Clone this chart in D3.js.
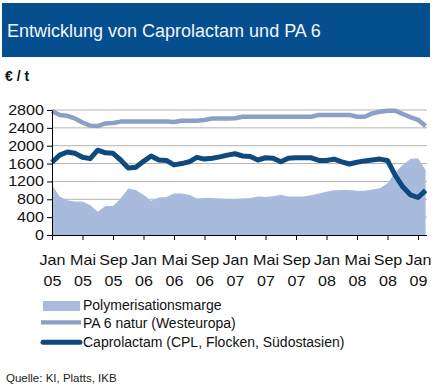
<!DOCTYPE html>
<html>
<head>
<meta charset="utf-8">
<script src="https://cdn.jsdelivr.net/npm/d3@7"></script>
<style>
  body { margin: 0; background: #fff; }
  svg { display: block; font-family: "Liberation Sans", Arial, sans-serif; }
</style>
</head>
<body>
<svg id="chart" width="438" height="392"></svg>
<script>
// monthly values, Jan 05 .. Feb 09 (index 0..49)
const marge = [1120, 860, 780, 750, 750, 670, 520, 650, 650, 820,
               1040, 1010, 900, 770, 840, 850, 930, 930, 900, 820,
               830, 830, 820, 806, 806, 820, 830, 860, 850, 870,
               900, 860, 860, 860, 890, 930, 970, 1000, 1010, 1010,
               990, 990, 1020, 1045, 1160, 1400, 1570, 1700, 1720, 1450];
const pa6 = [2780, 2690, 2670, 2610, 2520, 2450, 2440, 2500, 2510, 2540,
             2545, 2545, 2545, 2545, 2545, 2545, 2530, 2560, 2560, 2560,
             2575, 2610, 2610, 2610, 2615, 2650, 2650, 2650, 2650, 2650,
             2650, 2650, 2650, 2650, 2650, 2690, 2690, 2690, 2690, 2690,
             2650, 2650, 2725, 2760, 2785, 2785, 2710, 2640, 2580, 2440];
const cpl = [1630, 1790, 1860, 1830, 1740, 1710, 1900, 1840, 1830, 1680,
             1500, 1520, 1650, 1770, 1680, 1670, 1570, 1600, 1640, 1740,
             1700, 1720, 1750, 1790, 1820, 1770, 1760, 1680, 1730, 1720,
             1640, 1720, 1730, 1730, 1730, 1670, 1670, 1700, 1640, 1590,
             1630, 1660, 1680, 1700, 1670, 1340, 1080, 900, 840, 1000];

const tickMonth = ["Jan", "Mai", "Sep", "Jan", "Mai", "Sep", "Jan", "Mai", "Sep", "Jan", "Mai", "Sep", "Jan"];
const tickYear = ["05", "05", "05", "06", "06", "06", "07", "07", "07", "08", "08", "08", "09"];
const yTicks = [0, 400, 800, 1200, 1600, 2000, 2400, 2800];
const legendLabels = ["Polymerisationsmarge", "PA 6 natur (Westeuropa)", "Caprolactam (CPL, Flocken, Südostasien)"];

const col = {bar: "#064f8f", marge: "#a9bbdc", pa6: "#8c9fc7", cpl: "#0f4a7e", grid: "#b4b4b4"};

const svg = d3.select("#chart");

// title bar
svg.append("rect").attr("x", 2).attr("y", 3).attr("width", 428).attr("height", 54).attr("fill", col.bar);
svg.append("text").attr("x", 7).attr("y", 37).attr("fill", "#f2f5fa")
  .style("font-size", "18px").text("Entwicklung von Caprolactam und PA 6");

svg.append("text").attr("x", 5).attr("y", 81).style("font-size", "14px").style("font-weight", "bold")
  .attr("fill", "#111").text("€ / t");

const x = d3.scaleLinear().domain([0, 48]).range([52, 418]);
const y = d3.scaleLinear().domain([0, 2800]).range([235, 110]);
const xEnd = 427;

// gridlines
svg.append("g").selectAll("line").data(yTicks.filter(d => d > 0)).join("line")
  .attr("x1", x(0)).attr("x2", xEnd)
  .attr("y1", d => y(d)).attr("y2", d => y(d))
  .attr("stroke", col.grid).attr("stroke-width", 1);

// area
const area = d3.area().x((d, i) => x(i)).y0(y(0)).y1(d => y(d));
svg.append("path").datum(marge).attr("d", area).attr("fill", col.marge);

const line = d3.line().x((d, i) => x(i)).y(d => y(d));
svg.append("path").datum(pa6).attr("d", line).attr("fill", "none")
  .attr("stroke", col.pa6).attr("stroke-width", 4.5).attr("stroke-linejoin", "round");
svg.append("path").datum(cpl).attr("d", line).attr("fill", "none")
  .attr("stroke", col.cpl).attr("stroke-width", 5).attr("stroke-linejoin", "round");

// y axis
const yAxis = svg.append("g").attr("transform", `translate(${x(0)},0)`)
  .call(d3.axisLeft(y).tickValues(yTicks).tickSize(5).tickSizeOuter(0).tickFormat(d3.format("d")));
yAxis.select(".domain").attr("stroke", "#000");
yAxis.selectAll(".tick line").attr("stroke", "#000");
yAxis.selectAll(".tick text").attr("x", -7).attr("fill", "#111")
  .style("font-size", "14px").attr("transform", "scale(1.15,1)");

// x axis
const xAxis = svg.append("g").attr("transform", `translate(0,${y(0)})`)
  .call(d3.axisBottom(x).tickValues(d3.range(0, 49, 4)).tickSize(5).tickSizeOuter(0).tickFormat(""));
xAxis.select(".domain").attr("d", `M${x(0)},0.5H${xEnd}`).attr("stroke", "#000");
xAxis.selectAll(".tick line").attr("stroke", "#000");
xAxis.selectAll(".tick text").remove();
xAxis.selectAll(".tick").append("text")
  .attr("text-anchor", "middle").attr("fill", "#111").style("font-size", "14px")
  .attr("transform", "scale(1.15,1)")
  .each(function (d, i) {
    const t = d3.select(this);
    t.append("tspan").attr("x", 0).attr("y", 30).text(tickMonth[i]);
    t.append("tspan").attr("x", 0).attr("y", 50.7).text(tickYear[i]);
  });

// legend
const lg = svg.append("g");
lg.append("rect").attr("x", 43).attr("y", 301).attr("width", 37).attr("height", 10).attr("fill", col.marge);
lg.append("line").attr("x1", 41).attr("x2", 81).attr("y1", 322.3).attr("y2", 322.3)
  .attr("stroke", col.pa6).attr("stroke-width", 4.3);
lg.append("line").attr("x1", 43).attr("x2", 80).attr("y1", 342.3).attr("y2", 342.3)
  .attr("stroke", col.cpl).attr("stroke-width", 5).attr("stroke-linecap", "round");
lg.selectAll("text").data(legendLabels).join("text")
  .attr("x", 83).attr("y", (d, i) => [309.5, 327.5, 347][i])
  .attr("fill", "#111").style("font-size", "14px").text(d => d);

svg.append("text").attr("x", 6).attr("y", 381.7).attr("fill", "#222")
  .style("font-size", "11.5px").text("Quelle: KI, Platts, IKB");
</script>
</body>
</html>
